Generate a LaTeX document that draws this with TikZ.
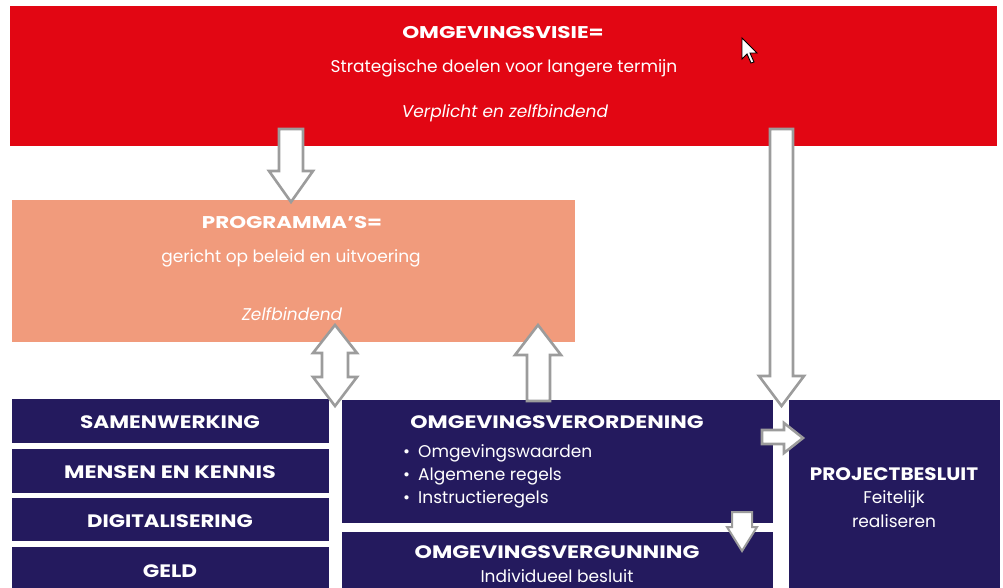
\documentclass[tikz,border=0pt]{standalone}
\usepackage{graphicx}
\usepackage{fontspec}
\setmainfont{Poppins}
\definecolor{ovred}{HTML}{E20613}
\definecolor{ovsalmon}{HTML}{F19B7C}
\definecolor{ovnavy}{HTML}{241A5E}
\definecolor{arrowgray}{HTML}{9C9C9C}
\newcommand{\widen}[2]{\scalebox{#1}[1]{#2}}
\begin{document}
\begin{tikzpicture}[x=1pt,y=-1pt,
  box/.style={anchor=north west, inner sep=0pt, outer sep=0pt, draw=none},
  ttl/.style={anchor=base, text=white, inner sep=0pt, font=\bfseries\fontsize{17}{20}\selectfont},
  bttl/.style={anchor=base, text=white, inner sep=0pt, font=\bfseries\fontsize{18}{20}\selectfont},
  txt/.style={anchor=base, text=white, inner sep=0pt, font=\fontsize{17}{20}\selectfont},
  itxt/.style={anchor=base, text=white, inner sep=0pt, font=\itshape\fontsize{17}{20}\selectfont},
  btxt/.style={anchor=base west, text=white, inner sep=0pt, font=\fontsize{17}{20}\selectfont},
  blockarrow/.style={draw=arrowgray, line width=2.6pt, fill=white, line join=miter}]
\useasboundingbox (0,0) rectangle (1003,588);
\fill[white] (0,0) rectangle (1003,588);

% boxes
\node[box, fill=ovred, minimum width=987pt, minimum height=140pt] (visie) at (10,6) {};
\node[box, fill=ovsalmon, minimum width=563pt, minimum height=142pt] (prog) at (12,200) {};
\node[box, fill=ovnavy, minimum width=317pt, minimum height=44pt] (samen) at (12,399) {};
\node[box, fill=ovnavy, minimum width=317pt, minimum height=44pt] (mensen) at (12,449) {};
\node[box, fill=ovnavy, minimum width=317pt, minimum height=43pt] (digi) at (12,498) {};
\node[box, fill=ovnavy, minimum width=317pt, minimum height=41pt] (geld) at (12,547) {};
\node[box, fill=ovnavy, minimum width=431pt, minimum height=123pt] (veror) at (342,400) {};
\node[box, fill=ovnavy, minimum width=431pt, minimum height=56pt] (vergun) at (342,532) {};
\node[box, fill=ovnavy, minimum width=211pt, minimum height=188pt] (project) at (789,400) {};

% texts
\node[ttl] (visieA) at (503,39) {\widen{1.27}{OMGEVINGSVISIE=}};
\node[txt] (visieB) at (504,73) {Strategische doelen voor langere termijn};
\node[itxt] (visieC) at (505,118) {Verplicht en zelfbindend};

\node[ttl] (progA) at (292,228) {\widen{1.26}{PROGRAMMA’S=}};
\node[txt] (progB) at (291,262) {gericht op beleid en uitvoering};
\node[itxt] (progC) at (292,320) {Zelfbindend};

\node[bttl] (samenT) at (170,428) {\widen{1.2}{SAMENWERKING}};
\node[bttl] (mensenT) at (170,478) {\widen{1.24}{MENSEN EN KENNIS}};
\node[bttl] (digiT) at (170,527) {\widen{1.18}{DIGITALISERING}};
\node[bttl] (geldT) at (170,577) {\widen{1.2}{GELD}};

\node[bttl] (verorT) at (557,428) {\widen{1.22}{OMGEVINGSVERORDENING}};
\node[btxt] (verorA) at (403,457) {•\hspace{8pt}Omgevingswaarden};
\node[btxt] (verorB) at (403,480) {•\hspace{8pt}Algemene regels};
\node[btxt] (verorC) at (403,503) {•\hspace{8pt}Instructieregels};

\node[bttl] (vergunT) at (557,558) {\widen{1.23}{OMGEVINGSVERGUNNING}};
\node[txt] (vergunA) at (557,582) {Individueel besluit};

\node[bttl] (projectT) at (894,480) {\widen{1.11}{PROJECTBESLUIT}};
\node[txt] (projectA) at (894,503) {Feitelijk};
\node[txt] (projectB) at (894,527) {realiseren};

% block arrows
\draw[blockarrow] (279,129) -- (303,129) -- (303,171) -- (313,171) -- (291,202) -- (269,171) -- (279,171) -- cycle;
\draw[blockarrow] (335,325) -- (357,353) -- (348,353) -- (348,377) -- (357,377) -- (335,406) -- (313,377) -- (322,377) -- (322,353) -- (313,353) -- cycle;
\draw[blockarrow] (538,325) -- (561,355) -- (550,355) -- (550,401) -- (527,401) -- (527,355) -- (515,355) -- cycle;
\draw[blockarrow] (770,129) -- (793,129) -- (793,376) -- (804,376) -- (781.5,406) -- (759,376) -- (770,376) -- cycle;
\draw[blockarrow] (762,430) -- (784,430) -- (784,423) -- (803,438) -- (784,453) -- (784,444) -- (762,444) -- cycle;
\draw[blockarrow, line width=2pt] (732,512) -- (752,512) -- (752,527) -- (757,527) -- (742,551) -- (727,527) -- (732,527) -- cycle;

% mouse cursor
\draw[fill=white, draw=black, line width=0.9pt, line join=miter]
  (742,38) -- (742,59) -- (747,54) -- (751,63) -- (754,62) -- (750,53) -- (757,53) -- cycle;
\end{tikzpicture}
\end{document}
